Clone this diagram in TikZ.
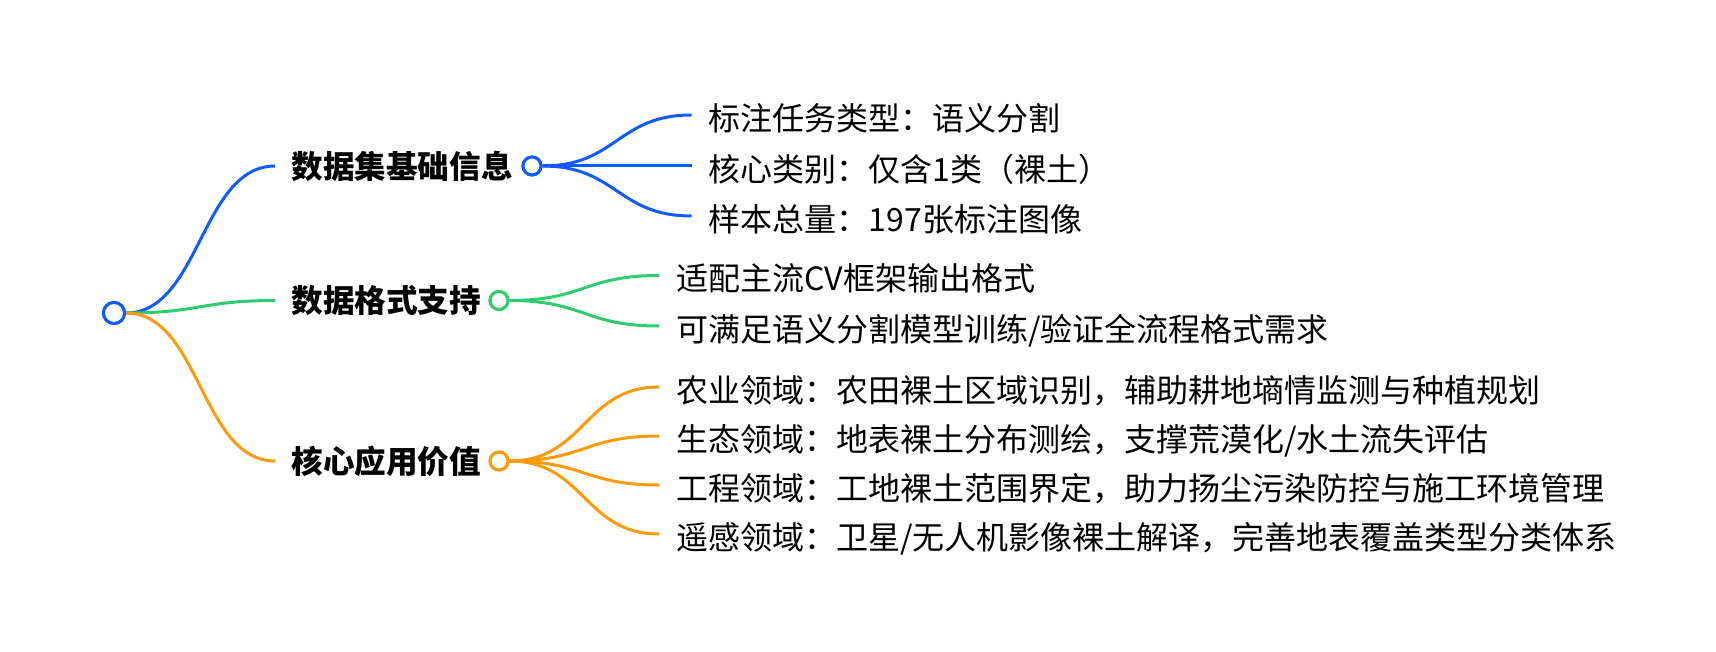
\documentclass[tikz,border=0pt]{standalone}
\usepackage{fontspec}
\setmainfont{Noto Sans CJK SC}
\usepackage{tikz}
\usepackage{xcolor}
\definecolor{mapblue}{HTML}{0F5BFF}
\definecolor{mapgreen}{HTML}{2FCC6F}
\definecolor{maporange}{HTML}{FF9A0A}

\begin{document}
\begin{tikzpicture}[
  x=0.5pt, y=-0.5pt,
  every node/.style={font=\fontsize{16pt}{19pt}\selectfont},
  dot/.style={circle, draw=#1, fill=white, line width=1.5pt, inner sep=0pt, minimum size=9pt},
  branch/.style={anchor=west, inner xsep=8pt, font=\fontsize{15.8pt}{19pt}\selectfont\bfseries},
  leaf/.style={anchor=west, inner xsep=8.5pt, text height=17pt, text depth=1.9pt},
  link/.style={line width=1.5pt, #1}
]

%% Background / bounding box
\useasboundingbox (0,0) rectangle (1716,652);

%% Root
\node[dot=mapblue, minimum size=10.5pt] (root) at (114,313) {};

%% Branches
\node[branch] (info) at (275,166) {数据集基础信息};
\node[dot=mapblue] (infodot) at (532,166) {};

\node[branch] (format) at (275,300.5) {数据格式支持};
\node[dot=mapgreen] (formatdot) at (499,300.5) {};

\node[branch] (value) at (275,461) {核心应用价值};
\node[dot=maporange] (valuedot) at (499,461) {};

%% Leaves -- dataset info
\node[leaf] (task) at (691.5,115) {标注任务类型：语义分割};
\node[leaf] (cls) at (691.5,166) {核心类别：仅含1类（裸土）};
\node[leaf] (total) at (691.5,216) {样本总量：197张标注图像};

%% Leaves -- format
\node[leaf] (cvfmt) at (659,275.5) {适配主流CV框架输出格式};
\node[leaf] (flow) at (659,326) {可满足语义分割模型训练/验证全流程格式需求};

%% Leaves -- applications
\node[leaf] (agri) at (659,387) {农业领域：农田裸土区域识别，辅助耕地墒情监测与种植规划};
\node[leaf] (eco) at (659,436) {生态领域：地表裸土分布测绘，支撑荒漠化/水土流失评估};
\node[leaf] (eng) at (659,485) {工程领域：工地裸土范围界定，助力扬尘污染防控与施工环境管理};
\node[leaf] (rs) at (659,534) {遥感领域：卫星/无人机影像裸土解译，完善地表覆盖类型分类体系};

%% Links -- root to branches
\draw[link=mapblue] (root.east) .. controls +(74,0) and +(-74,0) .. (info.west);
\draw[link=mapgreen] (root.east) .. controls +(74,0) and +(-74,0) .. (format.west);
\draw[link=maporange] (root.east) .. controls +(74,0) and +(-74,0) .. (value.west);

%% Links -- branches to leaves
\draw[link=mapblue] (infodot.east) .. controls +(74,0) and +(-74,0) .. (task.west);
\draw[link=mapblue] (infodot.east) .. controls +(74,0) and +(-74,0) .. (cls.west);
\draw[link=mapblue] (infodot.east) .. controls +(74,0) and +(-74,0) .. (total.west);

\draw[link=mapgreen] (formatdot.east) .. controls +(75,0) and +(-75,0) .. (cvfmt.west);
\draw[link=mapgreen] (formatdot.east) .. controls +(75,0) and +(-75,0) .. (flow.west);

\draw[link=maporange] (valuedot.east) .. controls +(75,0) and +(-75,0) .. (agri.west);
\draw[link=maporange] (valuedot.east) .. controls +(75,0) and +(-75,0) .. (eco.west);
\draw[link=maporange] (valuedot.east) .. controls +(75,0) and +(-75,0) .. (eng.west);
\draw[link=maporange] (valuedot.east) .. controls +(75,0) and +(-75,0) .. (rs.west);

%% Redraw dots on top of the links
\node[dot=mapblue, minimum size=10.5pt] at (root) {};
\node[dot=mapblue] at (infodot) {};
\node[dot=mapgreen] at (formatdot) {};
\node[dot=maporange] at (valuedot) {};

\end{tikzpicture}
\end{document}
